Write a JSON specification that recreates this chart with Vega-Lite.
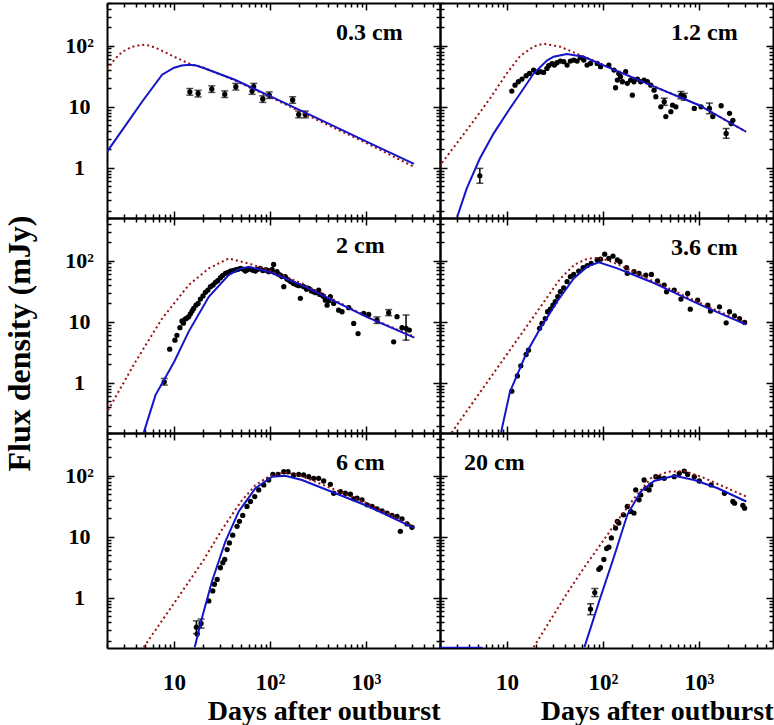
{
  "$schema": "https://vega.github.io/schema/vega-lite/v6.json",
  "background": "white",
  "padding": {"left": 2, "top": 2, "right": 0, "bottom": 0},
  "columns": 2,
  "spacing": 0,
  "bounds": "flush",
  "datasets": {
    "model": [
      {"panel": "0.3 cm", "kind": "fit", "x": 2, "y": 1.83},
      {"panel": "0.3 cm", "kind": "fit", "x": 3.16, "y": 5.1},
      {"panel": "0.3 cm", "kind": "fit", "x": 4.64, "y": 12.1},
      {"panel": "0.3 cm", "kind": "fit", "x": 7.5, "y": 33.5},
      {"panel": "0.3 cm", "kind": "fit", "x": 10, "y": 43.6},
      {"panel": "0.3 cm", "kind": "fit", "x": 12, "y": 47.5},
      {"panel": "0.3 cm", "kind": "fit", "x": 14.3, "y": 48.9},
      {"panel": "0.3 cm", "kind": "fit", "x": 17, "y": 47.5},
      {"panel": "0.3 cm", "kind": "fit", "x": 20, "y": 43.6},
      {"panel": "0.3 cm", "kind": "fit", "x": 43, "y": 27.7},
      {"panel": "0.3 cm", "kind": "fit", "x": 100, "y": 14.9},
      {"panel": "0.3 cm", "kind": "fit", "x": 316, "y": 6.4},
      {"panel": "0.3 cm", "kind": "fit", "x": 1000, "y": 2.72},
      {"panel": "0.3 cm", "kind": "fit", "x": 3162, "y": 1.16},
      {"panel": "0.3 cm", "kind": "alt", "x": 2, "y": 40.5},
      {"panel": "0.3 cm", "kind": "alt", "x": 2.4, "y": 60},
      {"panel": "0.3 cm", "kind": "alt", "x": 2.87, "y": 79},
      {"panel": "0.3 cm", "kind": "alt", "x": 3.65, "y": 96},
      {"panel": "0.3 cm", "kind": "alt", "x": 4.64, "y": 104},
      {"panel": "0.3 cm", "kind": "alt", "x": 5.6, "y": 100},
      {"panel": "0.3 cm", "kind": "alt", "x": 6.9, "y": 88},
      {"panel": "0.3 cm", "kind": "alt", "x": 10, "y": 66},
      {"panel": "0.3 cm", "kind": "alt", "x": 14.3, "y": 51},
      {"panel": "0.3 cm", "kind": "alt", "x": 20, "y": 44},
      {"panel": "0.3 cm", "kind": "alt", "x": 43, "y": 27},
      {"panel": "0.3 cm", "kind": "alt", "x": 100, "y": 14.5},
      {"panel": "0.3 cm", "kind": "alt", "x": 316, "y": 6.0},
      {"panel": "0.3 cm", "kind": "alt", "x": 1000, "y": 2.57},
      {"panel": "0.3 cm", "kind": "alt", "x": 3162, "y": 1.04},

      {"panel": "1.2 cm", "kind": "fit", "x": 3.02, "y": 0.157},
      {"panel": "1.2 cm", "kind": "fit", "x": 3.8, "y": 0.46},
      {"panel": "1.2 cm", "kind": "fit", "x": 5.2, "y": 1.42},
      {"panel": "1.2 cm", "kind": "fit", "x": 7.2, "y": 3.6},
      {"panel": "1.2 cm", "kind": "fit", "x": 10, "y": 8.0},
      {"panel": "1.2 cm", "kind": "fit", "x": 13.7, "y": 16.5},
      {"panel": "1.2 cm", "kind": "fit", "x": 18.9, "y": 35},
      {"panel": "1.2 cm", "kind": "fit", "x": 26, "y": 57},
      {"panel": "1.2 cm", "kind": "fit", "x": 30.5, "y": 66},
      {"panel": "1.2 cm", "kind": "fit", "x": 42, "y": 73},
      {"panel": "1.2 cm", "kind": "fit", "x": 63, "y": 66},
      {"panel": "1.2 cm", "kind": "fit", "x": 100, "y": 48},
      {"panel": "1.2 cm", "kind": "fit", "x": 314, "y": 22.6},
      {"panel": "1.2 cm", "kind": "fit", "x": 990, "y": 10.7},
      {"panel": "1.2 cm", "kind": "fit", "x": 3090, "y": 3.9},
      {"panel": "1.2 cm", "kind": "alt", "x": 1.95, "y": 1.04},
      {"panel": "1.2 cm", "kind": "alt", "x": 2.64, "y": 1.95},
      {"panel": "1.2 cm", "kind": "alt", "x": 4.43, "y": 5.7},
      {"panel": "1.2 cm", "kind": "alt", "x": 6.64, "y": 13.7},
      {"panel": "1.2 cm", "kind": "alt", "x": 9.9, "y": 35},
      {"panel": "1.2 cm", "kind": "alt", "x": 13.7, "y": 68},
      {"panel": "1.2 cm", "kind": "alt", "x": 18.9, "y": 97},
      {"panel": "1.2 cm", "kind": "alt", "x": 24, "y": 108},
      {"panel": "1.2 cm", "kind": "alt", "x": 35.9, "y": 96},
      {"panel": "1.2 cm", "kind": "alt", "x": 58, "y": 70},
      {"panel": "1.2 cm", "kind": "alt", "x": 100, "y": 49},
      {"panel": "1.2 cm", "kind": "alt", "x": 314, "y": 22.6},
      {"panel": "1.2 cm", "kind": "alt", "x": 990, "y": 10.7},
      {"panel": "1.2 cm", "kind": "alt", "x": 3090, "y": 3.9},

      {"panel": "2 cm", "kind": "fit", "x": 4.83, "y": 0.153},
      {"panel": "2 cm", "kind": "fit", "x": 6.4, "y": 0.63},
      {"panel": "2 cm", "kind": "fit", "x": 10, "y": 2.2},
      {"panel": "2 cm", "kind": "fit", "x": 14.2, "y": 6.9},
      {"panel": "2 cm", "kind": "fit", "x": 23, "y": 25.7},
      {"panel": "2 cm", "kind": "fit", "x": 37, "y": 58},
      {"panel": "2 cm", "kind": "fit", "x": 47, "y": 72},
      {"panel": "2 cm", "kind": "fit", "x": 60, "y": 79.8},
      {"panel": "2 cm", "kind": "fit", "x": 97, "y": 66},
      {"panel": "2 cm", "kind": "fit", "x": 215, "y": 39.9},
      {"panel": "2 cm", "kind": "fit", "x": 1000, "y": 12.1},
      {"panel": "2 cm", "kind": "fit", "x": 3184, "y": 5.5},
      {"panel": "2 cm", "kind": "alt", "x": 2.05, "y": 0.356},
      {"panel": "2 cm", "kind": "alt", "x": 3.95, "y": 2.2},
      {"panel": "2 cm", "kind": "alt", "x": 7.5, "y": 11.3},
      {"panel": "2 cm", "kind": "alt", "x": 14.2, "y": 39.9},
      {"panel": "2 cm", "kind": "alt", "x": 23, "y": 74.8},
      {"panel": "2 cm", "kind": "alt", "x": 37, "y": 109},
      {"panel": "2 cm", "kind": "alt", "x": 60, "y": 90},
      {"panel": "2 cm", "kind": "alt", "x": 97, "y": 70},
      {"panel": "2 cm", "kind": "alt", "x": 215, "y": 42.5},
      {"panel": "2 cm", "kind": "alt", "x": 1000, "y": 12.3},
      {"panel": "2 cm", "kind": "alt", "x": 3184, "y": 5.7},

      {"panel": "3.6 cm", "kind": "fit", "x": 8.65, "y": 0.153},
      {"panel": "3.6 cm", "kind": "fit", "x": 10.7, "y": 0.71},
      {"panel": "3.6 cm", "kind": "fit", "x": 16.1, "y": 3.2},
      {"panel": "3.6 cm", "kind": "fit", "x": 22.2, "y": 7.8},
      {"panel": "3.6 cm", "kind": "fit", "x": 33.1, "y": 21.3},
      {"panel": "3.6 cm", "kind": "fit", "x": 49.5, "y": 51.3},
      {"panel": "3.6 cm", "kind": "fit", "x": 68.3, "y": 79.8},
      {"panel": "3.6 cm", "kind": "fit", "x": 90.4, "y": 94},
      {"panel": "3.6 cm", "kind": "fit", "x": 141, "y": 74.8},
      {"panel": "3.6 cm", "kind": "fit", "x": 314, "y": 45.3},
      {"panel": "3.6 cm", "kind": "fit", "x": 1050, "y": 18.7},
      {"panel": "3.6 cm", "kind": "fit", "x": 3105, "y": 9.0},
      {"panel": "3.6 cm", "kind": "alt", "x": 2.64, "y": 0.153},
      {"panel": "3.6 cm", "kind": "alt", "x": 10, "y": 2.96},
      {"panel": "3.6 cm", "kind": "alt", "x": 20, "y": 13.8},
      {"panel": "3.6 cm", "kind": "alt", "x": 35.9, "y": 51},
      {"panel": "3.6 cm", "kind": "alt", "x": 50, "y": 85},
      {"panel": "3.6 cm", "kind": "alt", "x": 65.6, "y": 105},
      {"panel": "3.6 cm", "kind": "alt", "x": 80, "y": 111},
      {"panel": "3.6 cm", "kind": "alt", "x": 100, "y": 107},
      {"panel": "3.6 cm", "kind": "alt", "x": 141, "y": 88},
      {"panel": "3.6 cm", "kind": "alt", "x": 314, "y": 48.2},
      {"panel": "3.6 cm", "kind": "alt", "x": 1050, "y": 20},
      {"panel": "3.6 cm", "kind": "alt", "x": 3105, "y": 9.4},

      {"panel": "6 cm", "kind": "fit", "x": 16.4, "y": 0.156},
      {"panel": "6 cm", "kind": "fit", "x": 19.6, "y": 0.48},
      {"panel": "6 cm", "kind": "fit", "x": 24.9, "y": 1.89},
      {"panel": "6 cm", "kind": "fit", "x": 34.3, "y": 8.45},
      {"panel": "6 cm", "kind": "fit", "x": 47.2, "y": 26},
      {"panel": "6 cm", "kind": "fit", "x": 70.4, "y": 62.2},
      {"panel": "6 cm", "kind": "fit", "x": 105, "y": 96.3},
      {"panel": "6 cm", "kind": "fit", "x": 144, "y": 100},
      {"panel": "6 cm", "kind": "fit", "x": 215, "y": 85},
      {"panel": "6 cm", "kind": "fit", "x": 480, "y": 51.6},
      {"panel": "6 cm", "kind": "fit", "x": 1067, "y": 31.3},
      {"panel": "6 cm", "kind": "fit", "x": 3184, "y": 13.9},
      {"panel": "6 cm", "kind": "alt", "x": 4.83, "y": 0.156},
      {"panel": "6 cm", "kind": "alt", "x": 10, "y": 0.82},
      {"panel": "6 cm", "kind": "alt", "x": 20, "y": 4.0},
      {"panel": "6 cm", "kind": "alt", "x": 31.6, "y": 13.2},
      {"panel": "6 cm", "kind": "alt", "x": 50, "y": 38},
      {"panel": "6 cm", "kind": "alt", "x": 70.4, "y": 70},
      {"panel": "6 cm", "kind": "alt", "x": 100, "y": 100},
      {"panel": "6 cm", "kind": "alt", "x": 144, "y": 114},
      {"panel": "6 cm", "kind": "alt", "x": 215, "y": 98},
      {"panel": "6 cm", "kind": "alt", "x": 480, "y": 58.5},
      {"panel": "6 cm", "kind": "alt", "x": 1067, "y": 34.5},
      {"panel": "6 cm", "kind": "alt", "x": 3184, "y": 14.5},

      {"panel": "20 cm", "kind": "fit", "part": "a", "x": 2, "y": 0.153},
      {"panel": "20 cm", "kind": "fit", "part": "a", "x": 5.56, "y": 0.153},
      {"panel": "20 cm", "kind": "fit", "part": "b", "x": 64, "y": 0.156},
      {"panel": "20 cm", "kind": "fit", "part": "b", "x": 94.2, "y": 1.03},
      {"panel": "20 cm", "kind": "fit", "part": "b", "x": 130, "y": 4.7},
      {"panel": "20 cm", "kind": "fit", "part": "b", "x": 179, "y": 22.9},
      {"panel": "20 cm", "kind": "fit", "part": "b", "x": 247, "y": 55},
      {"panel": "20 cm", "kind": "fit", "part": "b", "x": 340, "y": 81.9},
      {"panel": "20 cm", "kind": "fit", "part": "b", "x": 552, "y": 100},
      {"panel": "20 cm", "kind": "fit", "part": "b", "x": 893, "y": 85},
      {"panel": "20 cm", "kind": "fit", "part": "b", "x": 1567, "y": 62.2},
      {"panel": "20 cm", "kind": "fit", "part": "b", "x": 3105, "y": 37.8},
      {"panel": "20 cm", "kind": "alt", "x": 18.9, "y": 0.156},
      {"panel": "20 cm", "kind": "alt", "x": 28.2, "y": 0.43},
      {"panel": "20 cm", "kind": "alt", "x": 42.2, "y": 1.19},
      {"panel": "20 cm", "kind": "alt", "x": 63, "y": 3.08},
      {"panel": "20 cm", "kind": "alt", "x": 94.2, "y": 7.5},
      {"panel": "20 cm", "kind": "alt", "x": 141, "y": 18.3},
      {"panel": "20 cm", "kind": "alt", "x": 210, "y": 42.3},
      {"panel": "20 cm", "kind": "alt", "x": 314, "y": 90.5},
      {"panel": "20 cm", "kind": "alt", "x": 470, "y": 116},
      {"panel": "20 cm", "kind": "alt", "x": 702, "y": 119},
      {"panel": "20 cm", "kind": "alt", "x": 1050, "y": 96.3},
      {"panel": "20 cm", "kind": "alt", "x": 3105, "y": 45.6}
    ],
    "obs": [
      {"panel": "0.3 cm", "x": 14.6, "y": 17.6, "lo": 15.5, "hi": 19.9},
      {"panel": "0.3 cm", "x": 17.8, "y": 16.5, "lo": 14.5, "hi": 18.6},
      {"panel": "0.3 cm", "x": 24.7, "y": 19.5, "lo": 17.2, "hi": 22.0},
      {"panel": "0.3 cm", "x": 33.7, "y": 16.1, "lo": 14.2, "hi": 18.2},
      {"panel": "0.3 cm", "x": 44, "y": 21.3, "lo": 18.8, "hi": 24.1},
      {"panel": "0.3 cm", "x": 65, "y": 18.1, "lo": 16.0, "hi": 20.5},
      {"panel": "0.3 cm", "x": 67.6, "y": 21.3, "lo": 18.8, "hi": 24.1},
      {"panel": "0.3 cm", "x": 84, "y": 13.4, "lo": 11.8, "hi": 15.1},
      {"panel": "0.3 cm", "x": 98, "y": 15.5, "lo": 13.7, "hi": 17.5},
      {"panel": "0.3 cm", "x": 172, "y": 12.9, "lo": 11.4, "hi": 14.6},
      {"panel": "0.3 cm", "x": 199, "y": 7.5, "lo": 6.6, "hi": 8.5},
      {"panel": "0.3 cm", "x": 233, "y": 7.5, "lo": 6.6, "hi": 8.5},

      {"panel": "1.2 cm", "x": 5.2, "y": 0.74, "lo": 0.56, "hi": 0.98},
      {"panel": "1.2 cm", "x": 11.2, "y": 18.1},
      {"panel": "1.2 cm", "x": 12.1, "y": 22.6},
      {"panel": "1.2 cm", "x": 13.1, "y": 25.7},
      {"panel": "1.2 cm", "x": 14.3, "y": 28.4},
      {"panel": "1.2 cm", "x": 15.8, "y": 32.2},
      {"panel": "1.2 cm", "x": 17.1, "y": 35.2},
      {"panel": "1.2 cm", "x": 18.9, "y": 39.9},
      {"panel": "1.2 cm", "x": 20.8, "y": 36.5},
      {"panel": "1.2 cm", "x": 22.2, "y": 37.5},
      {"panel": "1.2 cm", "x": 24, "y": 36.5},
      {"panel": "1.2 cm", "x": 26, "y": 42.5},
      {"panel": "1.2 cm", "x": 27.1, "y": 47},
      {"panel": "1.2 cm", "x": 29.4, "y": 50.7},
      {"panel": "1.2 cm", "x": 31.1, "y": 48.2},
      {"panel": "1.2 cm", "x": 33.1, "y": 52.6},
      {"panel": "1.2 cm", "x": 35.9, "y": 56.1},
      {"panel": "1.2 cm", "x": 38.9, "y": 54.7},
      {"panel": "1.2 cm", "x": 42.2, "y": 48.2},
      {"panel": "1.2 cm", "x": 45.7, "y": 56.1},
      {"panel": "1.2 cm", "x": 49.5, "y": 58.2},
      {"panel": "1.2 cm", "x": 53.6, "y": 56.1},
      {"panel": "1.2 cm", "x": 58.1, "y": 63.6},
      {"panel": "1.2 cm", "x": 63, "y": 58.2},
      {"panel": "1.2 cm", "x": 68.2, "y": 48.2},
      {"panel": "1.2 cm", "x": 74, "y": 51.3},
      {"panel": "1.2 cm", "x": 86.9, "y": 51.3},
      {"panel": "1.2 cm", "x": 94.2, "y": 45.3},
      {"panel": "1.2 cm", "x": 115, "y": 48.2},
      {"panel": "1.2 cm", "x": 130, "y": 39.9},
      {"panel": "1.2 cm", "x": 135, "y": 20.5},
      {"panel": "1.2 cm", "x": 141, "y": 27.4},
      {"panel": "1.2 cm", "x": 146, "y": 35.2},
      {"panel": "1.2 cm", "x": 152, "y": 31},
      {"panel": "1.2 cm", "x": 159, "y": 25.7},
      {"panel": "1.2 cm", "x": 172, "y": 37.5},
      {"panel": "1.2 cm", "x": 179, "y": 24.2},
      {"panel": "1.2 cm", "x": 194, "y": 27.4},
      {"panel": "1.2 cm", "x": 202, "y": 15.5},
      {"panel": "1.2 cm", "x": 210, "y": 25.7},
      {"panel": "1.2 cm", "x": 228, "y": 28.4},
      {"panel": "1.2 cm", "x": 247, "y": 25.7},
      {"panel": "1.2 cm", "x": 268, "y": 27.4},
      {"panel": "1.2 cm", "x": 290, "y": 25.7},
      {"panel": "1.2 cm", "x": 314, "y": 22.6},
      {"panel": "1.2 cm", "x": 340, "y": 18.7},
      {"panel": "1.2 cm", "x": 355, "y": 14.6},
      {"panel": "1.2 cm", "x": 400, "y": 10},
      {"panel": "1.2 cm", "x": 434, "y": 12.1, "lo": 10.6, "hi": 13.8},
      {"panel": "1.2 cm", "x": 451, "y": 6.9},
      {"panel": "1.2 cm", "x": 509, "y": 8.3},
      {"panel": "1.2 cm", "x": 530, "y": 10.6},
      {"panel": "1.2 cm", "x": 574, "y": 10},
      {"panel": "1.2 cm", "x": 648, "y": 15.5, "lo": 13.5, "hi": 17.8},
      {"panel": "1.2 cm", "x": 702, "y": 14.6, "lo": 12.8, "hi": 16.6},
      {"panel": "1.2 cm", "x": 893, "y": 9.4},
      {"panel": "1.2 cm", "x": 1050, "y": 10},
      {"panel": "1.2 cm", "x": 1283, "y": 9.4, "lo": 7.7, "hi": 11.5},
      {"panel": "1.2 cm", "x": 1390, "y": 6.9},
      {"panel": "1.2 cm", "x": 1700, "y": 10.4},
      {"panel": "1.2 cm", "x": 1918, "y": 3.66, "lo": 3.05, "hi": 4.4},
      {"panel": "1.2 cm", "x": 2080, "y": 7.8},
      {"panel": "1.2 cm", "x": 2163, "y": 5.3},
      {"panel": "1.2 cm", "x": 2253, "y": 6.0},

      {"panel": "2 cm", "x": 7.9, "y": 1.04, "lo": 0.92, "hi": 1.18},
      {"panel": "2 cm", "x": 9.0, "y": 3.56},
      {"panel": "2 cm", "x": 10.2, "y": 5.0},
      {"panel": "2 cm", "x": 10.7, "y": 6.0},
      {"panel": "2 cm", "x": 11.5, "y": 8.0},
      {"panel": "2 cm", "x": 12.1, "y": 10.3},
      {"panel": "2 cm", "x": 12.5, "y": 9.5},
      {"panel": "2 cm", "x": 13.1, "y": 11.1},
      {"panel": "2 cm", "x": 13.6, "y": 11.5},
      {"panel": "2 cm", "x": 14.2, "y": 12.1},
      {"panel": "2 cm", "x": 14.8, "y": 13.5},
      {"panel": "2 cm", "x": 15.4, "y": 15},
      {"panel": "2 cm", "x": 16, "y": 16.5},
      {"panel": "2 cm", "x": 16.9, "y": 18.7},
      {"panel": "2 cm", "x": 17.8, "y": 20},
      {"panel": "2 cm", "x": 18.8, "y": 23.5},
      {"panel": "2 cm", "x": 20, "y": 26.5},
      {"panel": "2 cm", "x": 21.2, "y": 30.3},
      {"panel": "2 cm", "x": 22.5, "y": 33},
      {"panel": "2 cm", "x": 23.9, "y": 37.5},
      {"panel": "2 cm", "x": 25.5, "y": 40},
      {"panel": "2 cm", "x": 27, "y": 44.2},
      {"panel": "2 cm", "x": 28.5, "y": 47},
      {"panel": "2 cm", "x": 30.4, "y": 52.6},
      {"panel": "2 cm", "x": 32, "y": 57},
      {"panel": "2 cm", "x": 34.3, "y": 62},
      {"panel": "2 cm", "x": 36, "y": 64},
      {"panel": "2 cm", "x": 38.6, "y": 67.7},
      {"panel": "2 cm", "x": 41, "y": 69},
      {"panel": "2 cm", "x": 43.5, "y": 70.4},
      {"panel": "2 cm", "x": 46, "y": 72},
      {"panel": "2 cm", "x": 49.1, "y": 74.8},
      {"panel": "2 cm", "x": 52, "y": 73},
      {"panel": "2 cm", "x": 55.3, "y": 67.7},
      {"panel": "2 cm", "x": 58, "y": 71},
      {"panel": "2 cm", "x": 62.4, "y": 73},
      {"panel": "2 cm", "x": 66, "y": 70},
      {"panel": "2 cm", "x": 70.3, "y": 67.7},
      {"panel": "2 cm", "x": 74, "y": 72},
      {"panel": "2 cm", "x": 79.3, "y": 74.8},
      {"panel": "2 cm", "x": 84, "y": 69},
      {"panel": "2 cm", "x": 89.3, "y": 70.4},
      {"panel": "2 cm", "x": 92, "y": 71},
      {"panel": "2 cm", "x": 96.8, "y": 66},
      {"panel": "2 cm", "x": 100, "y": 68},
      {"panel": "2 cm", "x": 105, "y": 72},
      {"panel": "2 cm", "x": 109, "y": 87},
      {"panel": "2 cm", "x": 112, "y": 64},
      {"panel": "2 cm", "x": 118, "y": 66},
      {"panel": "2 cm", "x": 122, "y": 60},
      {"panel": "2 cm", "x": 128, "y": 58},
      {"panel": "2 cm", "x": 133, "y": 55},
      {"panel": "2 cm", "x": 139, "y": 37.5},
      {"panel": "2 cm", "x": 144, "y": 54.7},
      {"panel": "2 cm", "x": 150, "y": 50},
      {"panel": "2 cm", "x": 156, "y": 48.2},
      {"panel": "2 cm", "x": 165, "y": 45},
      {"panel": "2 cm", "x": 176, "y": 42.5},
      {"panel": "2 cm", "x": 185, "y": 41},
      {"panel": "2 cm", "x": 191, "y": 39.9},
      {"panel": "2 cm", "x": 200, "y": 39},
      {"panel": "2 cm", "x": 207, "y": 24.2},
      {"panel": "2 cm", "x": 224, "y": 37.5},
      {"panel": "2 cm", "x": 240, "y": 34},
      {"panel": "2 cm", "x": 253, "y": 35.2},
      {"panel": "2 cm", "x": 270, "y": 32},
      {"panel": "2 cm", "x": 285, "y": 31},
      {"panel": "2 cm", "x": 300, "y": 30},
      {"panel": "2 cm", "x": 321, "y": 33},
      {"panel": "2 cm", "x": 330, "y": 28},
      {"panel": "2 cm", "x": 348, "y": 27.4},
      {"panel": "2 cm", "x": 360, "y": 26},
      {"panel": "2 cm", "x": 377, "y": 22.6},
      {"panel": "2 cm", "x": 393, "y": 18.7},
      {"panel": "2 cm", "x": 410, "y": 22},
      {"panel": "2 cm", "x": 425, "y": 25.7},
      {"panel": "2 cm", "x": 460, "y": 20},
      {"panel": "2 cm", "x": 519, "y": 15.5},
      {"panel": "2 cm", "x": 562, "y": 14.6},
      {"panel": "2 cm", "x": 660, "y": 17},
      {"panel": "2 cm", "x": 744, "y": 9.4},
      {"panel": "2 cm", "x": 826, "y": 6.4},
      {"panel": "2 cm", "x": 946, "y": 13.7},
      {"panel": "2 cm", "x": 1067, "y": 13.2},
      {"panel": "2 cm", "x": 1303, "y": 10.6, "lo": 9.4, "hi": 12.0},
      {"panel": "2 cm", "x": 1722, "y": 14.1, "lo": 12.6, "hi": 15.8},
      {"panel": "2 cm", "x": 1941, "y": 4.7},
      {"panel": "2 cm", "x": 2104, "y": 12.1},
      {"panel": "2 cm", "x": 2371, "y": 8.0},
      {"panel": "2 cm", "x": 2612, "y": 7.8, "lo": 5.0, "hi": 12.9},
      {"panel": "2 cm", "x": 2827, "y": 7.3},

      {"panel": "3.6 cm", "x": 11.2, "y": 0.73},
      {"panel": "3.6 cm", "x": 12.8, "y": 1.3},
      {"panel": "3.6 cm", "x": 13.9, "y": 1.9},
      {"panel": "3.6 cm", "x": 15.8, "y": 2.91},
      {"panel": "3.6 cm", "x": 16.7, "y": 3.43},
      {"panel": "3.6 cm", "x": 21.8, "y": 7.8},
      {"panel": "3.6 cm", "x": 23.1, "y": 9.4},
      {"panel": "3.6 cm", "x": 25, "y": 11.3},
      {"panel": "3.6 cm", "x": 26.4, "y": 14.6},
      {"panel": "3.6 cm", "x": 28.2, "y": 16.1},
      {"panel": "3.6 cm", "x": 30.1, "y": 18.7},
      {"panel": "3.6 cm", "x": 31.8, "y": 21.3},
      {"panel": "3.6 cm", "x": 33.7, "y": 25.7},
      {"panel": "3.6 cm", "x": 35.9, "y": 31},
      {"panel": "3.6 cm", "x": 38.9, "y": 36},
      {"panel": "3.6 cm", "x": 42.2, "y": 45.3},
      {"panel": "3.6 cm", "x": 45.7, "y": 54.7},
      {"panel": "3.6 cm", "x": 49.5, "y": 59.7},
      {"panel": "3.6 cm", "x": 55.8, "y": 67.7},
      {"panel": "3.6 cm", "x": 62, "y": 76.7},
      {"panel": "3.6 cm", "x": 68.3, "y": 82.8},
      {"panel": "3.6 cm", "x": 75.2, "y": 90.4},
      {"panel": "3.6 cm", "x": 86.9, "y": 102.6},
      {"panel": "3.6 cm", "x": 94.2, "y": 106},
      {"panel": "3.6 cm", "x": 104, "y": 128},
      {"panel": "3.6 cm", "x": 115, "y": 109},
      {"panel": "3.6 cm", "x": 127, "y": 119},
      {"panel": "3.6 cm", "x": 141, "y": 102.6},
      {"panel": "3.6 cm", "x": 150, "y": 96.3},
      {"panel": "3.6 cm", "x": 176, "y": 76.7},
      {"panel": "3.6 cm", "x": 179, "y": 62},
      {"panel": "3.6 cm", "x": 210, "y": 66},
      {"panel": "3.6 cm", "x": 237, "y": 62},
      {"panel": "3.6 cm", "x": 279, "y": 58.2},
      {"panel": "3.6 cm", "x": 319, "y": 59.7},
      {"panel": "3.6 cm", "x": 369, "y": 46.5},
      {"panel": "3.6 cm", "x": 434, "y": 39.9},
      {"panel": "3.6 cm", "x": 459, "y": 31},
      {"panel": "3.6 cm", "x": 552, "y": 33},
      {"panel": "3.6 cm", "x": 648, "y": 23.5},
      {"panel": "3.6 cm", "x": 761, "y": 29.1},
      {"panel": "3.6 cm", "x": 811, "y": 16.1},
      {"panel": "3.6 cm", "x": 968, "y": 22.6},
      {"panel": "3.6 cm", "x": 1233, "y": 18.7},
      {"panel": "3.6 cm", "x": 1315, "y": 15},
      {"panel": "3.6 cm", "x": 1633, "y": 17.6},
      {"panel": "3.6 cm", "x": 1918, "y": 9.6},
      {"panel": "3.6 cm", "x": 2080, "y": 14.6},
      {"panel": "3.6 cm", "x": 2344, "y": 12.5},
      {"panel": "3.6 cm", "x": 2644, "y": 11.3},
      {"panel": "3.6 cm", "x": 2985, "y": 9.75},

      {"panel": "6 cm", "x": 17.1, "y": 0.33, "lo": 0.26, "hi": 0.42},
      {"panel": "6 cm", "x": 17.4, "y": 0.256},
      {"panel": "6 cm", "x": 19.1, "y": 0.38, "lo": 0.32, "hi": 0.45},
      {"panel": "6 cm", "x": 23, "y": 0.89},
      {"panel": "6 cm", "x": 25.3, "y": 1.3},
      {"panel": "6 cm", "x": 26.3, "y": 1.67},
      {"panel": "6 cm", "x": 28.1, "y": 2.0},
      {"panel": "6 cm", "x": 30.4, "y": 3.11},
      {"panel": "6 cm", "x": 32.2, "y": 3.76},
      {"panel": "6 cm", "x": 33.7, "y": 4.26},
      {"panel": "6 cm", "x": 35.7, "y": 6.18},
      {"panel": "6 cm", "x": 37.7, "y": 7.94},
      {"panel": "6 cm", "x": 40.8, "y": 10.6},
      {"panel": "6 cm", "x": 45.3, "y": 14.8},
      {"panel": "6 cm", "x": 48, "y": 17.9},
      {"panel": "6 cm", "x": 51.9, "y": 22.4},
      {"panel": "6 cm", "x": 57.5, "y": 31.3},
      {"panel": "6 cm", "x": 62.4, "y": 37.8},
      {"panel": "6 cm", "x": 69.2, "y": 45.6},
      {"panel": "6 cm", "x": 76.2, "y": 58.5},
      {"panel": "6 cm", "x": 86, "y": 70.5},
      {"panel": "6 cm", "x": 96.8, "y": 85},
      {"panel": "6 cm", "x": 107, "y": 105},
      {"panel": "6 cm", "x": 121, "y": 105},
      {"panel": "6 cm", "x": 139, "y": 116},
      {"panel": "6 cm", "x": 154, "y": 116},
      {"panel": "6 cm", "x": 176, "y": 103},
      {"panel": "6 cm", "x": 199, "y": 105},
      {"panel": "6 cm", "x": 224, "y": 103},
      {"panel": "6 cm", "x": 253, "y": 96.3},
      {"panel": "6 cm", "x": 285, "y": 90.5},
      {"panel": "6 cm", "x": 321, "y": 90.5},
      {"panel": "6 cm", "x": 362, "y": 81.9},
      {"panel": "6 cm", "x": 425, "y": 72.3},
      {"panel": "6 cm", "x": 460, "y": 51.6},
      {"panel": "6 cm", "x": 540, "y": 55},
      {"panel": "6 cm", "x": 609, "y": 51.6},
      {"panel": "6 cm", "x": 687, "y": 49.7},
      {"panel": "6 cm", "x": 744, "y": 41.8},
      {"panel": "6 cm", "x": 806, "y": 42.8},
      {"panel": "6 cm", "x": 908, "y": 40.2},
      {"panel": "6 cm", "x": 1023, "y": 33.3},
      {"panel": "6 cm", "x": 1155, "y": 31.3},
      {"panel": "6 cm", "x": 1303, "y": 28.7},
      {"panel": "6 cm", "x": 1469, "y": 26.6},
      {"panel": "6 cm", "x": 1656, "y": 24.4},
      {"panel": "6 cm", "x": 1866, "y": 22.4},
      {"panel": "6 cm", "x": 2104, "y": 21.5},
      {"panel": "6 cm", "x": 2280, "y": 12.3},
      {"panel": "6 cm", "x": 2371, "y": 19.7},
      {"panel": "6 cm", "x": 2675, "y": 16.2},
      {"panel": "6 cm", "x": 3013, "y": 14.3},

      {"panel": "20 cm", "x": 74, "y": 0.655, "lo": 0.53, "hi": 0.8},
      {"panel": "20 cm", "x": 82, "y": 1.22, "lo": 1.05, "hi": 1.42},
      {"panel": "20 cm", "x": 90.4, "y": 2.93},
      {"panel": "20 cm", "x": 94, "y": 3.11},
      {"panel": "20 cm", "x": 102, "y": 4.25},
      {"panel": "20 cm", "x": 109, "y": 6.43},
      {"panel": "20 cm", "x": 115, "y": 6.75},
      {"panel": "20 cm", "x": 122, "y": 9.57},
      {"panel": "20 cm", "x": 135, "y": 13.9},
      {"panel": "20 cm", "x": 141, "y": 17.9},
      {"panel": "20 cm", "x": 146, "y": 16.8},
      {"panel": "20 cm", "x": 163, "y": 22.9},
      {"panel": "20 cm", "x": 179, "y": 31.3},
      {"panel": "20 cm", "x": 194, "y": 26},
      {"panel": "20 cm", "x": 210, "y": 24.4},
      {"panel": "20 cm", "x": 219, "y": 58.5},
      {"panel": "20 cm", "x": 237, "y": 40.2},
      {"panel": "20 cm", "x": 247, "y": 48.5},
      {"panel": "20 cm", "x": 268, "y": 85},
      {"panel": "20 cm", "x": 279, "y": 62.2},
      {"panel": "20 cm", "x": 302, "y": 58.5},
      {"panel": "20 cm", "x": 314, "y": 70.5},
      {"panel": "20 cm", "x": 355, "y": 96.3},
      {"panel": "20 cm", "x": 385, "y": 92.7},
      {"panel": "20 cm", "x": 434, "y": 90.5},
      {"panel": "20 cm", "x": 552, "y": 96.3},
      {"panel": "20 cm", "x": 622, "y": 109},
      {"panel": "20 cm", "x": 702, "y": 119},
      {"panel": "20 cm", "x": 761, "y": 105},
      {"panel": "20 cm", "x": 893, "y": 96.3},
      {"panel": "20 cm", "x": 1007, "y": 81.9},
      {"panel": "20 cm", "x": 1336, "y": 70.5},
      {"panel": "20 cm", "x": 1841, "y": 51.6},
      {"panel": "20 cm", "x": 2253, "y": 37.8},
      {"panel": "20 cm", "x": 2344, "y": 35.5},
      {"panel": "20 cm", "x": 2864, "y": 32.5},
      {"panel": "20 cm", "x": 2985, "y": 29.4}
    ]
  },
  "concat": [
    {
      "width": 333, "height": 215,
      "title": {"text": "0.3 cm", "dx": 229},
      "layer": [
        {"data": {"name": "obs"}, "transform": [{"filter": "datum.panel == '0.3 cm' && datum.lo != null"}],
         "mark": {"type": "errorbar", "ticks": true, "size": 7, "thickness": 1.5, "color": "black"},
         "encoding": {
           "x": {"field": "x", "type": "quantitative", "scale": {"type": "log", "domain": [2, 5900], "nice": false}, "axis": null},
           "y": {"field": "lo", "type": "quantitative", "scale": {"type": "log", "domain": [0.151, 500], "nice": false}, "axis": null},
           "y2": {"field": "hi"}}},
        {
          "encoding": {
            "x": {"field": "x", "type": "quantitative", "scale": {"type": "log", "domain": [2, 5900], "nice": false},
                  "axis": {"orient": "bottom", "tickCount": 40, "tickSize": {"condition": {"test": "datum.value == 10 || datum.value == 100 || datum.value == 1000", "value": -7}, "value": -4}, "labels": false, "title": null}},
            "y": {"field": "y", "type": "quantitative", "scale": {"type": "log", "domain": [0.151, 500], "nice": false},
                  "axis": {"orient": "left", "tickCount": 40, "tickSize": {"condition": {"test": "datum.value == 1 || datum.value == 10 || datum.value == 100", "value": -7}, "value": -4}, "labelExpr": "datum.value == 1 ? '1' : datum.value == 10 ? '10' : datum.value == 100 ? '10²' : ''", "labelFontSize": {"condition": {"test": "datum.value == 1 || datum.value == 10 || datum.value == 100", "value": 22}, "value": 0}, "labelAlign": "center", "labelBaseline": "middle", "labelPadding": 35, "labelOverlap": false, "labelFlush": false, "title": null}}
          },
          "layer": [
            {"data": {"name": "obs"}, "transform": [{"filter": "datum.panel == '0.3 cm'"}],
             "mark": {"type": "circle", "size": 28, "color": "black", "opacity": 1}},
            {"data": {"name": "model"}, "transform": [{"filter": "datum.panel == '0.3 cm' && datum.kind == 'alt'"}],
             "mark": {"type": "line", "color": "#9b1111", "strokeDash": [2, 3], "strokeWidth": 2, "clip": true}},
            {"data": {"name": "model"}, "transform": [{"filter": "datum.panel == '0.3 cm' && datum.kind == 'fit'"}],
             "mark": {"type": "line", "color": "#1414c8", "strokeWidth": 2, "clip": true},
             "encoding": {"detail": {"field": "part"}}}
          ]
        },
        {
          "data": {"name": "obs"}, "transform": [{"filter": "datum.panel == '0.3 cm'"}],
          "mark": {"type": "point", "opacity": 0},
          "encoding": {
            "x": {"field": "x", "type": "quantitative", "scale": {"type": "log", "domain": [2, 5900], "nice": false},
                  "axis": {"orient": "top", "tickCount": 40, "tickSize": {"condition": {"test": "datum.value == 10 || datum.value == 100 || datum.value == 1000", "value": -7}, "value": -4}, "labels": false, "title": null}},
            "y": {"field": "y", "type": "quantitative", "scale": {"type": "log", "domain": [0.151, 500], "nice": false},
                  "axis": {"orient": "right", "tickCount": 40, "tickSize": {"condition": {"test": "datum.value == 1 || datum.value == 10 || datum.value == 100", "value": -7}, "value": -4}, "labels": false, "title": null}}
          }
        }
      ],
      "resolve": {"axis": {"x": "independent", "y": "independent"}}
    },
    {
      "width": 333, "height": 215,
      "title": {"text": "1.2 cm", "dx": 231},
      "layer": [
        {"data": {"name": "obs"}, "transform": [{"filter": "datum.panel == '1.2 cm' && datum.lo != null"}],
         "mark": {"type": "errorbar", "ticks": true, "size": 7, "thickness": 1.5, "color": "black"},
         "encoding": {
           "x": {"field": "x", "type": "quantitative", "scale": {"type": "log", "domain": [2, 5900], "nice": false}, "axis": null},
           "y": {"field": "lo", "type": "quantitative", "scale": {"type": "log", "domain": [0.151, 500], "nice": false}, "axis": null},
           "y2": {"field": "hi"}}},
        {
          "encoding": {
            "x": {"field": "x", "type": "quantitative", "scale": {"type": "log", "domain": [2, 5900], "nice": false},
                  "axis": {"orient": "bottom", "tickCount": 40, "tickSize": {"condition": {"test": "datum.value == 10 || datum.value == 100 || datum.value == 1000", "value": -7}, "value": -4}, "labels": false, "title": null}},
            "y": {"field": "y", "type": "quantitative", "scale": {"type": "log", "domain": [0.151, 500], "nice": false},
                  "axis": {"orient": "left", "tickCount": 40, "tickSize": {"condition": {"test": "datum.value == 1 || datum.value == 10 || datum.value == 100", "value": -7}, "value": -4}, "labels": false, "title": null}}
          },
          "layer": [
            {"data": {"name": "obs"}, "transform": [{"filter": "datum.panel == '1.2 cm'"}],
             "mark": {"type": "circle", "size": 28, "color": "black", "opacity": 1}},
            {"data": {"name": "model"}, "transform": [{"filter": "datum.panel == '1.2 cm' && datum.kind == 'alt'"}],
             "mark": {"type": "line", "color": "#9b1111", "strokeDash": [2, 3], "strokeWidth": 2, "clip": true}},
            {"data": {"name": "model"}, "transform": [{"filter": "datum.panel == '1.2 cm' && datum.kind == 'fit'"}],
             "mark": {"type": "line", "color": "#1414c8", "strokeWidth": 2, "clip": true},
             "encoding": {"detail": {"field": "part"}}}
          ]
        },
        {
          "data": {"name": "obs"}, "transform": [{"filter": "datum.panel == '1.2 cm'"}],
          "mark": {"type": "point", "opacity": 0},
          "encoding": {
            "x": {"field": "x", "type": "quantitative", "scale": {"type": "log", "domain": [2, 5900], "nice": false},
                  "axis": {"orient": "top", "tickCount": 40, "tickSize": {"condition": {"test": "datum.value == 10 || datum.value == 100 || datum.value == 1000", "value": -7}, "value": -4}, "labels": false, "title": null}},
            "y": {"field": "y", "type": "quantitative", "scale": {"type": "log", "domain": [0.151, 500], "nice": false},
                  "axis": {"orient": "right", "tickCount": 40, "tickSize": {"condition": {"test": "datum.value == 1 || datum.value == 10 || datum.value == 100", "value": -7}, "value": -4}, "labels": false, "title": null}}
          }
        }
      ],
      "resolve": {"axis": {"x": "independent", "y": "independent"}}
    },
    {
      "width": 333, "height": 215,
      "title": {"text": "2 cm", "dx": 229},
      "layer": [
        {"data": {"name": "obs"}, "transform": [{"filter": "datum.panel == '2 cm' && datum.lo != null"}],
         "mark": {"type": "errorbar", "ticks": true, "size": 7, "thickness": 1.5, "color": "black"},
         "encoding": {
           "x": {"field": "x", "type": "quantitative", "scale": {"type": "log", "domain": [2, 5900], "nice": false}, "axis": null},
           "y": {"field": "lo", "type": "quantitative", "scale": {"type": "log", "domain": [0.151, 500], "nice": false}, "axis": null},
           "y2": {"field": "hi"}}},
        {
          "encoding": {
            "x": {"field": "x", "type": "quantitative", "scale": {"type": "log", "domain": [2, 5900], "nice": false},
                  "axis": {"orient": "bottom", "tickCount": 40, "tickSize": {"condition": {"test": "datum.value == 10 || datum.value == 100 || datum.value == 1000", "value": -7}, "value": -4}, "labels": false, "title": null}},
            "y": {"field": "y", "type": "quantitative", "scale": {"type": "log", "domain": [0.151, 500], "nice": false},
                  "axis": {"orient": "left", "tickCount": 40, "tickSize": {"condition": {"test": "datum.value == 1 || datum.value == 10 || datum.value == 100", "value": -7}, "value": -4}, "labelExpr": "datum.value == 1 ? '1' : datum.value == 10 ? '10' : datum.value == 100 ? '10²' : ''", "labelFontSize": {"condition": {"test": "datum.value == 1 || datum.value == 10 || datum.value == 100", "value": 22}, "value": 0}, "labelAlign": "center", "labelBaseline": "middle", "labelPadding": 35, "labelOverlap": false, "labelFlush": false,
                           "title": "Flux density (mJy)", "titleX": -88, "titleY": 125, "titleAngle": 270, "titleAlign": "center", "titleBaseline": "middle", "titleFontSize": 32}}
          },
          "layer": [
            {"data": {"name": "obs"}, "transform": [{"filter": "datum.panel == '2 cm'"}],
             "mark": {"type": "circle", "size": 28, "color": "black", "opacity": 1}},
            {"data": {"name": "model"}, "transform": [{"filter": "datum.panel == '2 cm' && datum.kind == 'alt'"}],
             "mark": {"type": "line", "color": "#9b1111", "strokeDash": [2, 3], "strokeWidth": 2, "clip": true}},
            {"data": {"name": "model"}, "transform": [{"filter": "datum.panel == '2 cm' && datum.kind == 'fit'"}],
             "mark": {"type": "line", "color": "#1414c8", "strokeWidth": 2, "clip": true},
             "encoding": {"detail": {"field": "part"}}}
          ]
        },
        {
          "data": {"name": "obs"}, "transform": [{"filter": "datum.panel == '2 cm'"}],
          "mark": {"type": "point", "opacity": 0},
          "encoding": {
            "x": {"field": "x", "type": "quantitative", "scale": {"type": "log", "domain": [2, 5900], "nice": false},
                  "axis": {"orient": "top", "tickCount": 40, "tickSize": {"condition": {"test": "datum.value == 10 || datum.value == 100 || datum.value == 1000", "value": -7}, "value": -4}, "labels": false, "title": null}},
            "y": {"field": "y", "type": "quantitative", "scale": {"type": "log", "domain": [0.151, 500], "nice": false},
                  "axis": {"orient": "right", "tickCount": 40, "tickSize": {"condition": {"test": "datum.value == 1 || datum.value == 10 || datum.value == 100", "value": -7}, "value": -4}, "labels": false, "title": null}}
          }
        }
      ],
      "resolve": {"axis": {"x": "independent", "y": "independent"}}
    },
    {
      "width": 333, "height": 215,
      "title": {"text": "3.6 cm", "dx": 231},
      "layer": [
        {
          "encoding": {
            "x": {"field": "x", "type": "quantitative", "scale": {"type": "log", "domain": [2, 5900], "nice": false},
                  "axis": {"orient": "bottom", "tickCount": 40, "tickSize": {"condition": {"test": "datum.value == 10 || datum.value == 100 || datum.value == 1000", "value": -7}, "value": -4}, "labels": false, "title": null}},
            "y": {"field": "y", "type": "quantitative", "scale": {"type": "log", "domain": [0.151, 500], "nice": false},
                  "axis": {"orient": "left", "tickCount": 40, "tickSize": {"condition": {"test": "datum.value == 1 || datum.value == 10 || datum.value == 100", "value": -7}, "value": -4}, "labels": false, "title": null}}
          },
          "layer": [
            {"data": {"name": "obs"}, "transform": [{"filter": "datum.panel == '3.6 cm'"}],
             "mark": {"type": "circle", "size": 28, "color": "black", "opacity": 1}},
            {"data": {"name": "model"}, "transform": [{"filter": "datum.panel == '3.6 cm' && datum.kind == 'alt'"}],
             "mark": {"type": "line", "color": "#9b1111", "strokeDash": [2, 3], "strokeWidth": 2, "clip": true}},
            {"data": {"name": "model"}, "transform": [{"filter": "datum.panel == '3.6 cm' && datum.kind == 'fit'"}],
             "mark": {"type": "line", "color": "#1414c8", "strokeWidth": 2, "clip": true},
             "encoding": {"detail": {"field": "part"}}}
          ]
        },
        {
          "data": {"name": "obs"}, "transform": [{"filter": "datum.panel == '3.6 cm'"}],
          "mark": {"type": "point", "opacity": 0},
          "encoding": {
            "x": {"field": "x", "type": "quantitative", "scale": {"type": "log", "domain": [2, 5900], "nice": false},
                  "axis": {"orient": "top", "tickCount": 40, "tickSize": {"condition": {"test": "datum.value == 10 || datum.value == 100 || datum.value == 1000", "value": -7}, "value": -4}, "labels": false, "title": null}},
            "y": {"field": "y", "type": "quantitative", "scale": {"type": "log", "domain": [0.151, 500], "nice": false},
                  "axis": {"orient": "right", "tickCount": 40, "tickSize": {"condition": {"test": "datum.value == 1 || datum.value == 10 || datum.value == 100", "value": -7}, "value": -4}, "labels": false, "title": null}}
          }
        }
      ],
      "resolve": {"axis": {"x": "independent", "y": "independent"}}
    },
    {
      "width": 333, "height": 215,
      "title": {"text": "6 cm", "dx": 229},
      "layer": [
        {"data": {"name": "obs"}, "transform": [{"filter": "datum.panel == '6 cm' && datum.lo != null"}],
         "mark": {"type": "errorbar", "ticks": true, "size": 7, "thickness": 1.5, "color": "black"},
         "encoding": {
           "x": {"field": "x", "type": "quantitative", "scale": {"type": "log", "domain": [2, 5900], "nice": false}, "axis": null},
           "y": {"field": "lo", "type": "quantitative", "scale": {"type": "log", "domain": [0.151, 500], "nice": false}, "axis": null},
           "y2": {"field": "hi"}}},
        {
          "encoding": {
            "x": {"field": "x", "type": "quantitative", "scale": {"type": "log", "domain": [2, 5900], "nice": false},
                  "axis": {"orient": "bottom", "tickCount": 40, "tickSize": {"condition": {"test": "datum.value == 10 || datum.value == 100 || datum.value == 1000", "value": -7}, "value": -4}, "labelExpr": "datum.value == 10 ? '10' : datum.value == 100 ? '10²' : datum.value == 1000 ? '10³' : ''", "labelFontSize": {"condition": {"test": "datum.value == 10 || datum.value == 100 || datum.value == 1000", "value": 23}, "value": 0}, "labelPadding": 30, "labelOverlap": false, "labelFlush": false,
                           "title": "Days after outburst", "titleAnchor": "end", "titleY": 71, "titleBaseline": "alphabetic"}},
            "y": {"field": "y", "type": "quantitative", "scale": {"type": "log", "domain": [0.151, 500], "nice": false},
                  "axis": {"orient": "left", "tickCount": 40, "tickSize": {"condition": {"test": "datum.value == 1 || datum.value == 10 || datum.value == 100", "value": -7}, "value": -4}, "labelExpr": "datum.value == 1 ? '1' : datum.value == 10 ? '10' : datum.value == 100 ? '10²' : ''", "labelFontSize": {"condition": {"test": "datum.value == 1 || datum.value == 10 || datum.value == 100", "value": 22}, "value": 0}, "labelAlign": "center", "labelBaseline": "middle", "labelPadding": 35, "labelOverlap": false, "labelFlush": false, "title": null}}
          },
          "layer": [
            {"data": {"name": "obs"}, "transform": [{"filter": "datum.panel == '6 cm'"}],
             "mark": {"type": "circle", "size": 28, "color": "black", "opacity": 1}},
            {"data": {"name": "model"}, "transform": [{"filter": "datum.panel == '6 cm' && datum.kind == 'alt'"}],
             "mark": {"type": "line", "color": "#9b1111", "strokeDash": [2, 3], "strokeWidth": 2, "clip": true}},
            {"data": {"name": "model"}, "transform": [{"filter": "datum.panel == '6 cm' && datum.kind == 'fit'"}],
             "mark": {"type": "line", "color": "#1414c8", "strokeWidth": 2, "clip": true},
             "encoding": {"detail": {"field": "part"}}}
          ]
        },
        {
          "data": {"name": "obs"}, "transform": [{"filter": "datum.panel == '6 cm'"}],
          "mark": {"type": "point", "opacity": 0},
          "encoding": {
            "x": {"field": "x", "type": "quantitative", "scale": {"type": "log", "domain": [2, 5900], "nice": false},
                  "axis": {"orient": "top", "tickCount": 40, "tickSize": {"condition": {"test": "datum.value == 10 || datum.value == 100 || datum.value == 1000", "value": -7}, "value": -4}, "labels": false, "title": null}},
            "y": {"field": "y", "type": "quantitative", "scale": {"type": "log", "domain": [0.151, 500], "nice": false},
                  "axis": {"orient": "right", "tickCount": 40, "tickSize": {"condition": {"test": "datum.value == 1 || datum.value == 10 || datum.value == 100", "value": -7}, "value": -4}, "labels": false, "title": null}}
          }
        }
      ],
      "resolve": {"axis": {"x": "independent", "y": "independent"}}
    },
    {
      "width": 333, "height": 215,
      "title": {"text": "20 cm", "dx": 24},
      "layer": [
        {"data": {"name": "obs"}, "transform": [{"filter": "datum.panel == '20 cm' && datum.lo != null"}],
         "mark": {"type": "errorbar", "ticks": true, "size": 7, "thickness": 1.5, "color": "black"},
         "encoding": {
           "x": {"field": "x", "type": "quantitative", "scale": {"type": "log", "domain": [2, 5900], "nice": false}, "axis": null},
           "y": {"field": "lo", "type": "quantitative", "scale": {"type": "log", "domain": [0.151, 500], "nice": false}, "axis": null},
           "y2": {"field": "hi"}}},
        {
          "encoding": {
            "x": {"field": "x", "type": "quantitative", "scale": {"type": "log", "domain": [2, 5900], "nice": false},
                  "axis": {"orient": "bottom", "tickCount": 40, "tickSize": {"condition": {"test": "datum.value == 10 || datum.value == 100 || datum.value == 1000", "value": -7}, "value": -4}, "labelExpr": "datum.value == 10 ? '10' : datum.value == 100 ? '10²' : datum.value == 1000 ? '10³' : ''", "labelFontSize": {"condition": {"test": "datum.value == 10 || datum.value == 100 || datum.value == 1000", "value": 23}, "value": 0}, "labelPadding": 30, "labelOverlap": false, "labelFlush": false,
                           "title": "Days after outburst", "titleAnchor": "end", "titleY": 71, "titleBaseline": "alphabetic"}},
            "y": {"field": "y", "type": "quantitative", "scale": {"type": "log", "domain": [0.151, 500], "nice": false},
                  "axis": {"orient": "left", "tickCount": 40, "tickSize": {"condition": {"test": "datum.value == 1 || datum.value == 10 || datum.value == 100", "value": -7}, "value": -4}, "labels": false, "title": null}}
          },
          "layer": [
            {"data": {"name": "obs"}, "transform": [{"filter": "datum.panel == '20 cm'"}],
             "mark": {"type": "circle", "size": 28, "color": "black", "opacity": 1}},
            {"data": {"name": "model"}, "transform": [{"filter": "datum.panel == '20 cm' && datum.kind == 'alt'"}],
             "mark": {"type": "line", "color": "#9b1111", "strokeDash": [2, 3], "strokeWidth": 2, "clip": true}},
            {"data": {"name": "model"}, "transform": [{"filter": "datum.panel == '20 cm' && datum.kind == 'fit'"}],
             "mark": {"type": "line", "color": "#1414c8", "strokeWidth": 2, "clip": true},
             "encoding": {"detail": {"field": "part"}}}
          ]
        },
        {
          "data": {"name": "obs"}, "transform": [{"filter": "datum.panel == '20 cm'"}],
          "mark": {"type": "point", "opacity": 0},
          "encoding": {
            "x": {"field": "x", "type": "quantitative", "scale": {"type": "log", "domain": [2, 5900], "nice": false},
                  "axis": {"orient": "top", "tickCount": 40, "tickSize": {"condition": {"test": "datum.value == 10 || datum.value == 100 || datum.value == 1000", "value": -7}, "value": -4}, "labels": false, "title": null}},
            "y": {"field": "y", "type": "quantitative", "scale": {"type": "log", "domain": [0.151, 500], "nice": false},
                  "axis": {"orient": "right", "tickCount": 40, "tickSize": {"condition": {"test": "datum.value == 1 || datum.value == 10 || datum.value == 100", "value": -7}, "value": -4}, "labels": false, "title": null}}
          }
        }
      ],
      "resolve": {"axis": {"x": "independent", "y": "independent"}}
    }
  ],
  "config": {
    "view": {"stroke": null},
    "axis": {"grid": false, "domainColor": "black", "domainWidth": 2, "tickColor": "black", "tickWidth": 1.5,
             "labelFont": "Liberation Serif", "labelFontSize": 22, "labelFontWeight": "bold", "labelColor": "black",
             "titleFont": "Liberation Serif", "titleFontSize": 28, "titleFontWeight": "bold", "titleColor": "black"},
    "title": {"font": "Liberation Serif", "fontSize": 24, "fontWeight": "bold", "color": "black", "anchor": "start", "frame": "group", "offset": -43, "baseline": "alphabetic"}
  }
}
